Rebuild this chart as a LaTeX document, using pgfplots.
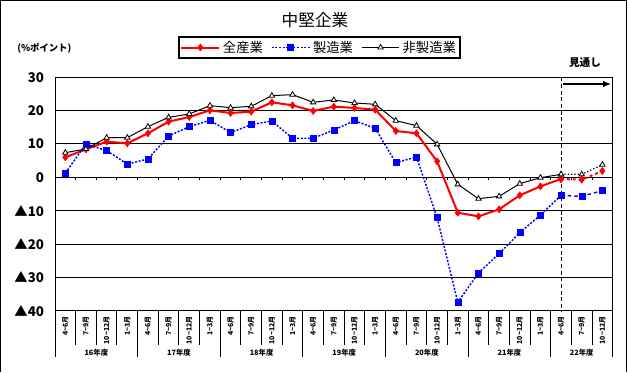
\documentclass[border=0pt]{standalone}
\usepackage{fontspec}
\setmainfont{Noto Sans CJK JP}
\usepackage{pgfplots}
\pgfplotsset{compat=1.18}
\usetikzlibrary{arrows.meta}
\def\qa{4\textasciitilde6月}
\def\qb{7\textasciitilde9月}
\def\qc{10\textasciitilde12月}
\def\qd{1\textasciitilde3月}
\begin{document}
\begin{tikzpicture}
\useasboundingbox (0,0) rectangle (472.5pt,279pt);
\begin{axis}[
  at={(41.25pt,45.975pt)}, anchor=south west,
  scale only axis, width=418.275pt, height=175.05pt,
  xmin=-0.5, xmax=26.5, ymin=-40, ymax=30,
  xtick={0,...,26},
  xticklabels={\qa,\qb,\qc,\qd,\qa,\qb,\qc,\qd,\qa,\qb,\qc,\qd,\qa,\qb,\qc,\qd,\qa,\qb,\qc,\qd,\qa,\qb,\qc,\qd,\qa,\qb,\qc},
  xticklabel style={rotate=90, anchor=east, inner sep=0pt, font=\bfseries\fontsize{5.2}{5.2}\selectfont},
  xticklabel shift=4pt,
  major tick length=0pt,
  ytick={-40,-30,...,30},
  yticklabels={▲40,▲30,▲20,▲10,0,10,20,30},
  yticklabel style={font=\bfseries\fontsize{10}{10}\selectfont, anchor=east, inner sep=0pt},
  yticklabel shift=8pt,
  ymajorgrids, grid style={black, line width=0.75pt},
  axis line style={line width=0.75pt},
  clip=false,
  legend columns=3,
  legend style={at={(0.4743,1.1277)}, anchor=center, draw=black, line width=1pt,
    font=\fontsize{10}{10}\selectfont, inner sep=1pt,
    /tikz/every even column/.append style={column sep=4pt}},
  legend image code/.code={\draw[mark repeat=2,mark phase=2,#1] plot coordinates {(0cm,0cm) (0.5cm,0cm) (1cm,0cm)};},
]
\addplot[red, line width=1.5pt, mark=diamond*, mark size=2.6pt, mark options={solid, fill=red, line width=0.5pt}] coordinates {
(0,6.0) (1,8.4) (2,10.7) (3,10.2) (4,13.2) (5,16.7) (6,18.1) (7,20.1) (8,19.3) (9,19.7)
(10,22.5) (11,21.6) (12,19.9) (13,21.2) (14,20.8) (15,20.3) (16,13.9) (17,13.2) (18,4.8) (19,-10.6)
(20,-11.7) (21,-9.6) (22,-5.4) (23,-2.7) (24,-0.5)};
\addlegendentry{全産業}
\addplot[blue, line width=1.1pt, dash pattern=on 1.5pt off 1.2pt, mark=square*, mark size=2.25pt, mark options={solid, fill=blue, line width=0.3pt}] coordinates {
(0,1.3) (1,10.0) (2,8.0) (3,4.0) (4,5.5) (5,12.4) (6,15.2) (7,17.1) (8,13.4) (9,15.8)
(10,16.9) (11,11.7) (12,11.7) (13,14.2) (14,17.0) (15,14.7) (16,4.4) (17,6.1) (18,-12.1) (19,-37.5)
(20,-28.7) (21,-22.9) (22,-16.6) (23,-11.3) (24,-5.4)};
\addlegendentry{製造業}
\addplot[black, line width=0.75pt, mark=triangle*, mark size=2.3pt, mark options={solid, fill=white, line width=0.6pt}] coordinates {
(0,7.4) (1,8.5) (2,11.9) (3,11.9) (4,15.2) (5,18.0) (6,19.0) (7,21.5) (8,20.9) (9,21.3)
(10,24.5) (11,24.8) (12,22.5) (13,23.2) (14,22.3) (15,21.9) (16,17.0) (17,15.5) (18,9.9) (19,-2.1)
(20,-6.4) (21,-5.7) (22,-1.9) (23,-0.1) (24,0.9)};
\addlegendentry{非製造業}
% forecast
\addplot[forget plot, red, line width=1.5pt, dash pattern=on 2.2pt off 2.2pt, mark=diamond*, mark size=2.6pt, mark options={solid, fill=red, line width=0.5pt}] coordinates {(24,-0.5) (25,-0.7) (26,1.9)};
\addplot[forget plot, blue, line width=1.1pt, dash pattern=on 2.5pt off 2.5pt, mark=square*, mark size=2.25pt, mark options={solid, fill=blue, line width=0.3pt}] coordinates {(24,-5.4) (25,-5.7) (26,-4.0)};
\addplot[forget plot, black, line width=0.9pt, dash pattern=on 1pt off 1.5pt, mark=triangle*, mark size=2.3pt, mark options={solid, fill=white, line width=0.6pt}] coordinates {(24,0.9) (25,0.9) (26,3.8)};
% decorations
\draw[black, line width=0.75pt, dash pattern=on 3pt off 2pt] (axis cs:24,30) -- (axis cs:24,-40);
\pgfplotsinvokeforeach{0,...,25}{
  \draw[black, line width=0.75pt] (axis cs:#1.5,-40) -- (axis cs:#1.5,-50.3);
  \draw[black, line width=0.75pt] (axis cs:#1.5,0) -- ([yshift=-1.8pt]axis cs:#1.5,0);
}
\pgfplotsinvokeforeach{-0.5,3.5,7.5,11.5,15.5,19.5,23.5,26.5}{
  \draw[black, line width=0.75pt] (axis cs:#1,-40) -- (axis cs:#1,-53.9);
}
\begin{scope}[font=\bfseries\fontsize{5.5}{5.5}\selectfont]
\node at (axis cs:1.5,-52.6) {16年度};
\node at (axis cs:5.5,-52.6) {17年度};
\node at (axis cs:9.5,-52.6) {18年度};
\node at (axis cs:13.5,-52.6) {19年度};
\node at (axis cs:17.5,-52.6) {20年度};
\node at (axis cs:21.5,-52.6) {21年度};
\node at (axis cs:25,-52.6) {22年度};
\end{scope}
\end{axis}
\begin{scope}[shift={(0pt,279pt)}, x=0.75pt, y=-0.75pt]
\draw[black, line width=0.75pt] (0.5,372) -- (0.5,0.5) -- (626.5,0.5) -- (626.5,372);
\node[font=\fontsize{12.5}{12.5}\selectfont] at (315,20) {中堅企業};
\node[anchor=west, font=\bfseries\fontsize{7}{7}\selectfont, inner sep=0pt] at (17,48) {(\%ポイント)};
\node[font=\bfseries\fontsize{8}{8}\selectfont] at (585,63) {見通し};
\draw[black, line width=1pt, -{Latex[length=6pt,width=5pt]}] (563,84) -- (611,84);
\end{scope}
\end{tikzpicture}
\end{document}
